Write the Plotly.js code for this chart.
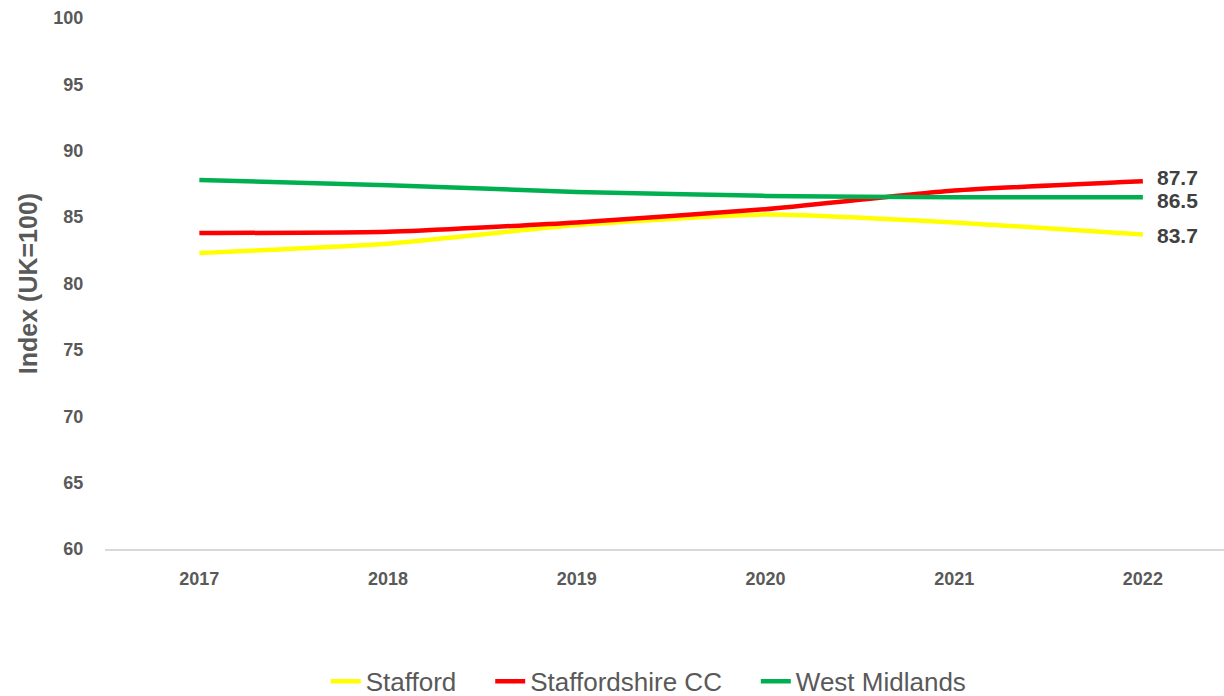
<!DOCTYPE html>
<html>
<head>
<meta charset="utf-8">
<script src="https://cdn.plot.ly/plotly-3.0.1.min.js"></script>
<style>
html,body{margin:0;padding:0;background:#fff;}
#chart{width:1224px;height:696px;}
</style>
</head>
<body>
<div id="chart"></div>
<script>
const years = ['2017', '2018', '2019', '2020', '2021', '2022'];
const stafford = [82.3, 83.0, 84.4, 85.2, 84.6, 83.7];
const staffordshireCC = [83.8, 83.9, 84.6, 85.6, 87.0, 87.7];
const westMidlands = [87.8, 87.4, 86.9, 86.6, 86.5, 86.5];
const seriesNames = ['Stafford', 'Staffordshire CC', 'West Midlands'];
const seriesColors = ['#FFFF00', '#FF0000', '#00B050'];
const yTicks = [60, 65, 70, 75, 80, 85, 90, 95, 100];

const seriesValues = [stafford, staffordshireCC, westMidlands];
const legendPad = '\u00A0\u00A0\u00A0\u00A0';
const traces = seriesValues.map((vals, i) => ({
  type: 'scatter',
  mode: 'lines',
  x: years,
  y: vals,
  name: seriesNames[i] + (i < seriesValues.length - 1 ? legendPad : ''),
  line: {color: seriesColors[i], width: 4.5, shape: 'spline', smoothing: 0.5},
  hoverinfo: 'skip'
}));

// end-of-line value labels, anchored to the last data point of each series
const lastIdx = years.length - 1;
const yShifts = [-1, 4, -3];
const annotations = seriesValues.map((vals, i) => ({
  x: lastIdx,
  y: vals[lastIdx],
  xref: 'x', yref: 'y',
  text: '<b>' + vals[lastIdx].toFixed(1) + '</b>',
  showarrow: false,
  xanchor: 'left',
  yanchor: 'middle',
  xshift: 13,
  yshift: yShifts[i],
  borderpad: 0,
  font: {family: 'Liberation Sans, Arial, sans-serif', size: 21, color: '#404040'}
}));

const layout = {
  width: 1224,
  height: 696,
  margin: {l: 105, r: 0, t: 18, b: 147},
  paper_bgcolor: '#ffffff',
  plot_bgcolor: '#ffffff',
  showlegend: true,
  xaxis: {
    type: 'category',
    range: [-0.5, 5.43],
    automargin: false,
    showgrid: false,
    zeroline: false,
    showline: true,
    linecolor: '#D9D9D9',
    linewidth: 1.5,
    ticks: 'outside',
    ticklen: 13,
    tickcolor: 'rgba(0,0,0,0)',
    tickfont: {family: 'Liberation Sans, Arial, sans-serif', size: 18, color: '#595959', weight: 'bold'}
  },
  yaxis: {
    range: [60, 100],
    automargin: false,
    tickvals: yTicks,
    showgrid: false,
    zeroline: false,
    showline: false,
    ticks: 'outside',
    ticklen: 17,
    tickcolor: 'rgba(0,0,0,0)',
    tickfont: {family: 'Liberation Sans, Arial, sans-serif', size: 18, color: '#595959', weight: 'bold'},
    title: {text: 'Index (UK=100)', standoff: 8,
      font: {family: 'Liberation Sans, Arial, sans-serif', size: 25, color: '#595959', weight: 'bold'}}
  },
  legend: {
    orientation: 'h',
    xref: 'container', yref: 'container',
    x: 0.53, xanchor: 'center',
    y: 0.021, yanchor: 'middle',
    font: {family: 'Liberation Sans, Arial, sans-serif', size: 26, color: '#595959'},
    itemwidth: 30,
    tracegroupgap: 0
  },
  annotations: annotations
};

Plotly.newPlot('chart', traces, layout, {displayModeBar: false, staticPlot: true});
</script>
</body>
</html>
